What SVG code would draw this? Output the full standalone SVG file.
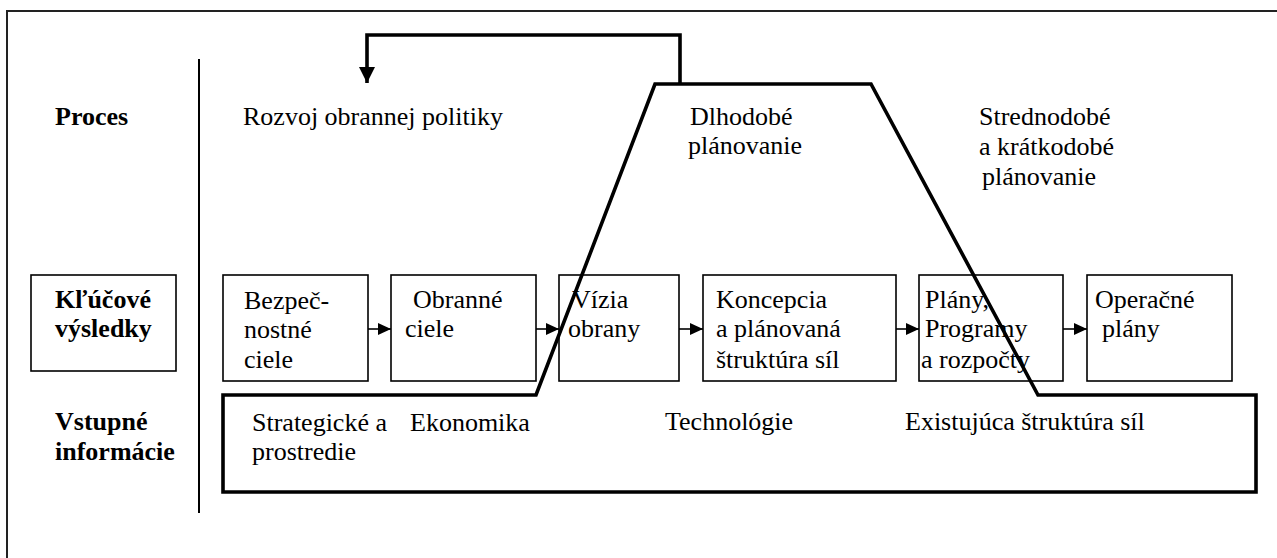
<svg xmlns="http://www.w3.org/2000/svg" width="1277" height="558" viewBox="0 0 1277 558">
  <defs>
    <style>
      text { font-family: "Liberation Serif", "Times New Roman", "DejaVu Serif", serif; font-size: 26px; fill: #000; }
      .b { font-weight: bold; }
      .box { fill: #fff; stroke: #000; stroke-width: 1.6; }
      .thin { fill: none; stroke: #000; stroke-width: 1.6; }
      .thick { fill: none; stroke: #000; stroke-width: 3.6; stroke-linejoin: miter; }
    </style>
    <marker id="tri" markerUnits="userSpaceOnUse" markerWidth="14" markerHeight="12" refX="13" refY="6" orient="auto">
      <path d="M0,0 L13,6 L0,12 Z" fill="#000"/>
    </marker>
    <marker id="bigtri" markerUnits="userSpaceOnUse" markerWidth="17" markerHeight="16" refX="16" refY="8" orient="auto">
      <path d="M0,0 L16,8 L0,16 Z" fill="#000"/>
    </marker>
  </defs>

  <rect width="1277" height="558" fill="#fff"/>

  <!-- outer frame (top and left edges) and column divider -->
  <path d="M7,560 V11 H1280" fill="none" stroke="#222" stroke-width="2"/>
  <line x1="199" y1="59" x2="199" y2="513" stroke="#000" stroke-width="2"/>

  <!-- row headings -->
  <g id="heading-proces">
    <text class="b" x="55" y="125">Proces</text>
  </g>
  <g id="heading-vysledky">
    <rect class="box" x="31" y="275" width="145" height="96"/>
    <text class="b" x="55" y="308">Kľúčové</text>
    <text class="b" x="55" y="337">výsledky</text>
  </g>
  <g id="heading-vstupy">
    <text class="b" x="55" y="430">Vstupné</text>
    <text class="b" x="55" y="460">informácie</text>
  </g>

  <!-- process phases -->
  <g id="phase-politika">
    <text x="243" y="125">Rozvoj obrannej politiky</text>
  </g>
  <g id="phase-dlhodobe">
    <text x="690" y="125">Dlhodobé</text>
    <text x="688" y="154">plánovanie</text>
  </g>
  <g id="phase-strednodobe">
    <text x="979" y="125">Strednodobé</text>
    <text x="979" y="155">a krátkodobé</text>
    <text x="982" y="185">plánovanie</text>
  </g>

  <!-- key outputs -->
  <g id="node-bezpecnostne">
    <rect class="box" x="223" y="275" width="145" height="106"/>
    <text x="244" y="309">Bezpeč-</text>
    <text x="244" y="338">nostné</text>
    <text x="244" y="368">ciele</text>
  </g>
  <g id="node-obranne">
    <rect class="box" x="391" y="275" width="145" height="106"/>
    <text x="413" y="308">Obranné</text>
    <text x="405" y="337">ciele</text>
  </g>
  <g id="node-vizia">
    <rect class="box" x="559" y="275" width="120" height="106"/>
    <text x="572" y="308">Vízia</text>
    <text x="568" y="337">obrany</text>
  </g>
  <g id="node-koncepcia">
    <rect class="box" x="703" y="275" width="193" height="106"/>
    <text x="716" y="308">Koncepcia</text>
    <text x="716" y="337">a plánovaná</text>
    <text x="716" y="368">štruktúra síl</text>
  </g>
  <g id="node-plany">
    <rect class="box" x="919" y="275" width="144" height="106"/>
    <text x="925" y="308">Plány,</text>
    <text x="925" y="337">Programy</text>
    <text x="921" y="368">a rozpočty</text>
  </g>
  <g id="node-operacne">
    <rect class="box" x="1087" y="275" width="145" height="106"/>
    <text x="1095" y="308">Operačné</text>
    <text x="1102" y="337">plány</text>
  </g>

  <!-- inputs -->
  <g id="node-vstupy">
    <text x="252" y="431">Strategické a</text>
    <text x="252" y="460">prostredie</text>
    <text x="410" y="431">Ekonomika</text>
    <text x="665" y="430">Technológie</text>
    <text x="905" y="430">Existujúca štruktúra síl</text>
  </g>

  <!-- connectors -->
  <g id="connectors">
    <line class="thin" x1="368" y1="329" x2="391" y2="329" marker-end="url(#tri)"/>
    <line class="thin" x1="536" y1="329" x2="559" y2="329" marker-end="url(#tri)"/>
    <line class="thin" x1="679" y1="329" x2="703" y2="329" marker-end="url(#tri)"/>
    <line class="thin" x1="896" y1="329" x2="919" y2="329" marker-end="url(#tri)"/>
    <line class="thin" x1="1063" y1="329" x2="1087" y2="329" marker-end="url(#tri)"/>
    <!-- long-term planning outline merged with the inputs frame -->
    <path class="thick" d="M223,395 H536 L655,84 H871 L1038,395 H1256 V492 H223 Z"/>
    <!-- feedback to defence policy -->
    <path class="thick" d="M680,84 V35 H367 V83" marker-end="url(#bigtri)"/>
  </g>
</svg>
